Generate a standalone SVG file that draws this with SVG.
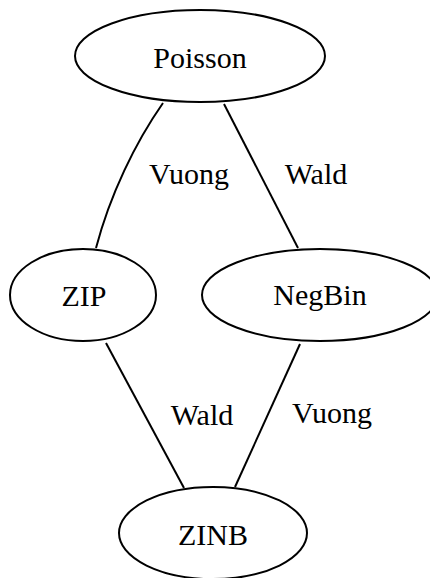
<svg xmlns="http://www.w3.org/2000/svg" width="430" height="578" viewBox="0 0 430 578">
<style>
.n ellipse{fill:none;stroke:#000;stroke-width:2}
.e path{fill:none;stroke:#000;stroke-width:2}
text{font-family:"Liberation Serif","DejaVu Serif",serif;font-size:30px;fill:#000;text-anchor:middle}
</style>
<rect width="430" height="578" fill="#fff"/>
<g id="connectors" class="e">
<path d="M163,103 C135,143 110,195 96,248"/>
<path d="M224,104 L298,248"/>
<path d="M106,343 L184,488"/>
<path d="M300,344 L235,487"/>
<text x="189" y="184">Vuong</text>
<text x="316" y="184">Wald</text>
<text x="202" y="425">Wald</text>
<text x="332" y="423">Vuong</text>
</g>
<g id="Poisson" class="n"><ellipse cx="200" cy="56" rx="125" ry="46"/><text x="200" y="68">Poisson</text></g>
<g id="ZIP" class="n"><ellipse cx="83" cy="295" rx="73" ry="46"/><text x="84" y="306">ZIP</text></g>
<g id="NegBin" class="n"><ellipse cx="320" cy="295" rx="118" ry="46"/><text x="320" y="305">NegBin</text></g>
<g id="ZINB" class="n"><ellipse cx="213" cy="533" rx="94" ry="46"/><text x="213" y="545">ZINB</text></g>
</svg>
